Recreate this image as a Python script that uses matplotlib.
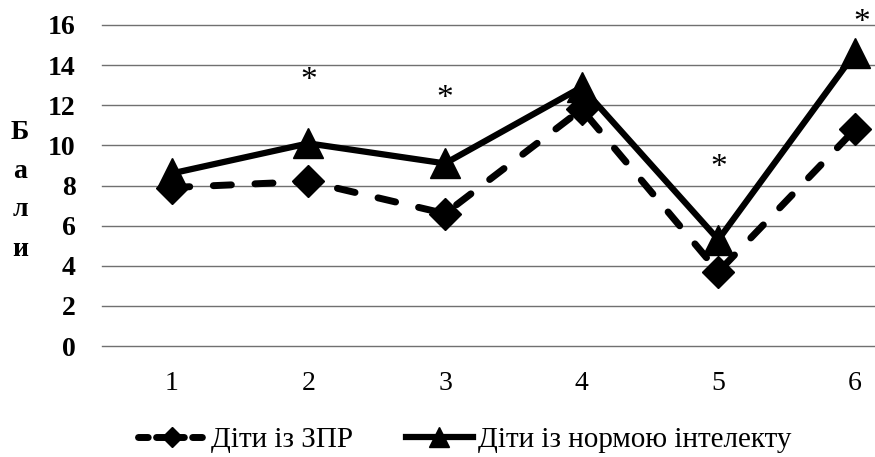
import matplotlib
matplotlib.use("Agg", force=True)
import matplotlib.pyplot as plt
from matplotlib.lines import Line2D

categories = [1, 2, 3, 4, 5, 6]
zpr_values = [7.9, 8.2, 6.6, 11.8, 3.7, 10.8]
norm_values = [8.6, 10.1, 9.1, 12.9, 5.3, 14.6]
star_x = [2, 3, 5, 6.05]
star_y = [13.2, 12.3, 8.9, 16.1]
y_ticks = [0, 2, 4, 6, 8, 10, 12, 14, 16]
labels = ["Діти із ЗПР", "Діти із нормою інтелекту"]
ylabel_letters = ["Б", "а", "л", "и"]

plt.rcParams["font.family"] = ["Liberation Serif", "DejaVu Serif"]

fig = plt.figure(figsize=(8.75, 4.57), dpi=100)
W, H = 875, 457
x0, x1 = 102, 875
y0, y1 = 346, 25
ax = fig.add_axes([x0 / W, (H - y0) / H, (x1 - x0) / W, (y0 - y1) / H])

ax.set_xlim(0.49, 6.146)
ax.set_ylim(0, 16)
ax.set_yticks(y_ticks)
ax.set_yticklabels([str(t) for t in y_ticks], fontsize=20, fontweight="bold")
ax.set_xticks(categories)
ax.set_xticklabels([str(c) for c in categories], fontsize=20)
ax.grid(axis="y", color="#707070", linewidth=1.0)
for gl in ax.get_ygridlines():
    gl.set_clip_on(False)
ax.set_axisbelow(True)
for s in ax.spines.values():
    s.set_visible(False)
ax.tick_params(length=0)
ax.tick_params(axis="x", pad=18)
ax.tick_params(axis="y", pad=19)

ax.plot(categories, zpr_values, color="black", lw=5, dashes=(2.6, 3.4),
        dash_capstyle="round", marker="D", markersize=16, clip_on=False)
ax.plot(categories, norm_values, color="black", lw=4.5,
        marker="^", markersize=22, clip_on=False)

for xs, ys in zip(star_x, star_y):
    ax.text(xs, ys, "*", fontsize=24, ha="center", va="center")

for i, ch in enumerate(ylabel_letters):
    fig.text(20 / W, 1 - (132 + i * 39) / H, ch, fontsize=20, fontweight="bold",
             ha="center", va="center")

handles = [
    Line2D([], [], color="black", lw=5, dashes=(1.4, 1.2), dash_capstyle="round",
           marker="D", markersize=10),
    Line2D([], [], color="black", lw=4.5, marker="^", markersize=14),
]
fig.legend(handles, labels, loc="center", bbox_to_anchor=(465 / W, 1 - 440 / H),
           ncol=2, frameon=False, fontsize=21, handlelength=2.3,
           columnspacing=1.8, handletextpad=0.2, borderpad=0)

fig.savefig("out.png", dpi=100)
